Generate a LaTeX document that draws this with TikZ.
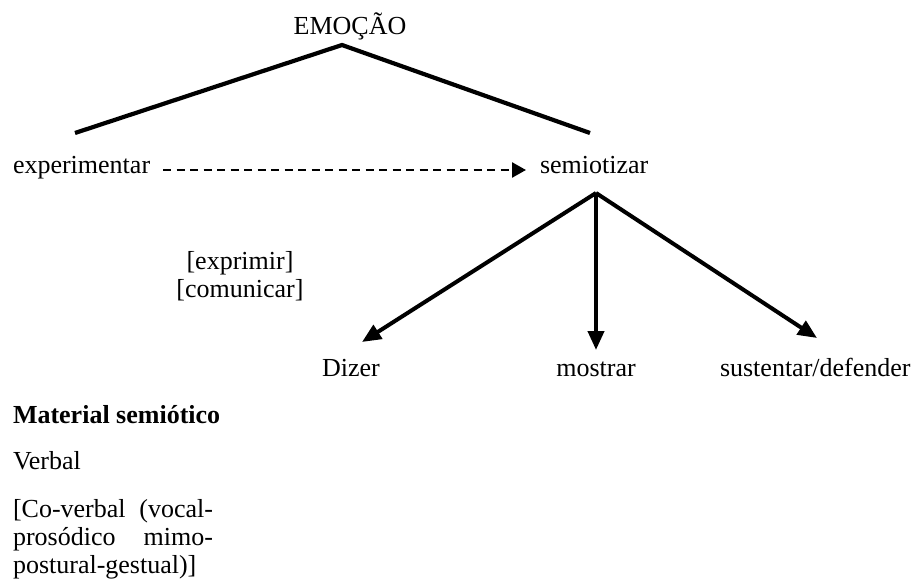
\documentclass[tikz,border=0pt]{standalone}
\usepackage{fontspec}
\setmainfont{Liberation Serif}
\usetikzlibrary{arrows.meta}
\begin{document}
\begin{tikzpicture}[x=1pt,y=-1pt,
  lbl/.style={inner sep=0pt,outer sep=0pt,font=\fontsize{26}{28}\selectfont},
  thickline/.style={line width=4.2pt,line cap=butt},
  arr/.style={line width=4pt,-{Triangle[length=19pt,width=16pt]}},
  dasharr/.style={line width=2.5pt,dash pattern=on 8pt off 5.5pt,-{Triangle[length=14pt,width=15pt]}}]
\useasboundingbox (0,0) rectangle (916,580);
% texts
\node[lbl,anchor=base] (emo) at (350,35) {EMOÇÃO};
\node[lbl,anchor=base west] (exp) at (13,174) {experimentar};
\node[lbl,anchor=base west] (sem) at (540,174) {semiotizar};
\node[lbl,anchor=center,align=center] (expr) at (240,276) {[exprimir]\\[0pt][comunicar]};
\node[lbl,anchor=base west] (diz) at (322,376) {Dizer};
\node[lbl,anchor=base] (mos) at (596,376) {mostrar};
\node[lbl,anchor=base west] (sus) at (720,376) {sustentar/defender};
\node[lbl,anchor=base west] (mat) at (13,423) {\bfseries Material semiótico};
\node[lbl,anchor=base west] (verb) at (13,469) {Verbal};
\node[lbl,anchor=base west] (co1) at (13,517) {\hbox to 200pt{[Co-verbal\hfill(vocal-}};
\node[lbl,anchor=base west] (co2) at (13,545) {\hbox to 200pt{prosódico\hfill mimo-}};
\node[lbl,anchor=base west] (co3) at (13,573) {postural-gestual)]};
% connector points
\coordinate (apex) at (342,45);
\coordinate (lend) at (75,133);
\coordinate (rend) at (590,133);
\coordinate (dstart) at (163,170);
\coordinate (dend) at (526,170);
\coordinate (apex2) at (596,193);
\coordinate (tdiz) at (362,342);
\coordinate (tmos) at (596,350);
\coordinate (tsus) at (817,338);
% lines
\draw[thickline] (lend) -- (apex) -- (rend);
\draw[dasharr] (dstart) -- (dend);
\draw[arr] (apex2) -- (tdiz);
\draw[arr] (apex2) -- (tmos);
\draw[arr] (apex2) -- (tsus);
\end{tikzpicture}
\end{document}
